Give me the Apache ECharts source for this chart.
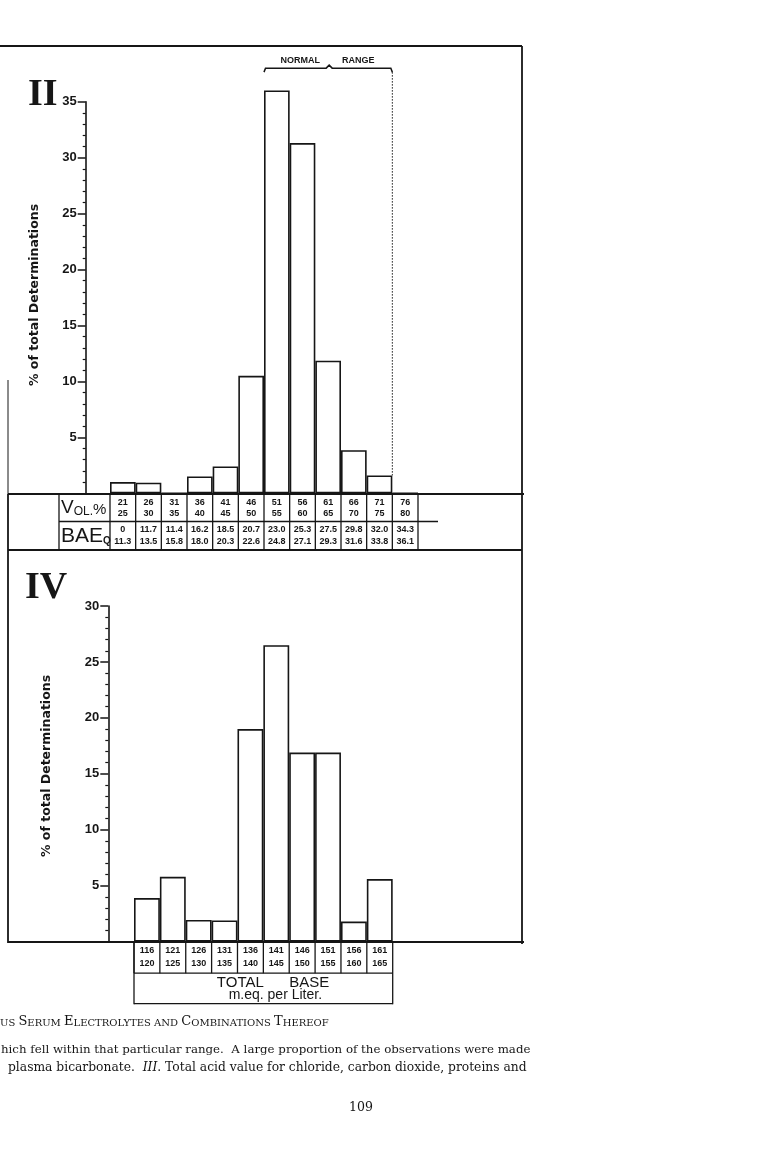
<!DOCTYPE html>
<html>
<head>
<meta charset="utf-8">
<script src="https://cdn.jsdelivr.net/npm/echarts@6/dist/echarts.min.js"></script>
<style>
html,body{margin:0;padding:0;background:#ffffff;}
#chart{width:757px;height:1163px;}
</style>
</head>
<body>
<div id="chart"></div>
<script>
// ---------- Panel II : plasma CO2 (Vol. %) ----------
const volLow  = ['21','26','31','36','41','46','51','56','61','66','71','76'];
const volHigh = ['25','30','35','40','45','50','55','60','65','70','75','80'];
const baeLow  = ['0','11.7','11.4','16.2','18.5','20.7','23.0','25.3','27.5','29.8','32.0','34.3'];
const baeHigh = ['11.3','13.5','15.8','18.0','20.3','22.6','24.8','27.1','29.3','31.6','33.8','36.1'];
const volPercent = [1.0, 0.95, 0, 1.5, 2.4, 10.5, 36.0, 31.3, 11.85, 3.85, 1.6, 0];
const yTicksII = [5, 10, 15, 20, 25, 30, 35];
const normalRange = ['51', '75'];
const normalLabel = ['NORMAL', 'RANGE'];
const normalLevel = 38;

// ---------- Panel IV : total base ----------
const baseLow  = ['116','121','126','131','136','141','146','151','156','161'];
const baseHigh = ['120','125','130','135','140','145','150','155','160','165'];
const basePercent = [3.9, 5.8, 1.95, 1.9, 19.0, 26.5, 16.9, 16.9, 1.8, 5.6];
const yTicksIV = [5, 10, 15, 20, 25, 30];

const axisTitle = '% of total Determinations';
const panelNames = ['II', 'IV'];
const baseTitle = ['TOTAL', 'BASE', 'm.eq. per Liter.'];

const INK = '#161616';
const SANS = '"Liberation Sans", Arial, sans-serif';
const SERIF = '"Liberation Serif", "Times New Roman", serif';
const BOOK = '"DejaVu Serif", serif';

const volCats = volLow.map((v, i) => v + '-' + volHigh[i]);
const baseCats = baseLow.map((v, i) => v + '-' + baseHigh[i]);

function L(x1, y1, x2, y2, w, dash) {
  const s = { stroke: INK, lineWidth: w || 1.3 };
  if (dash) s.lineDash = dash;
  return { type: 'line', shape: { x1, y1, x2, y2 }, style: s };
}
function T(x, y, text, font, align, extra) {
  const a = align || 'center';
  return { type: 'text', x: x, y: y,
    style: Object.assign({ text: text, font: font, fill: INK, align: a, verticalAlign: 'middle',
      textAlign: a, textVerticalAlign: 'middle' }, extra || {}) };
}

function renderVolTable(params, api) {
  const i = api.value(0);
  const c = api.coord([i, 0]);
  const w = api.size([1, 0])[0];
  const x0 = c[0] - w / 2, y0 = c[1] + 0.7;
  const n = volLow.length;
  const f = 'bold 9px ' + SANS;
  const kids = [
    L(x0, y0, x0, y0 + 56, 1.3),
    T(c[0], y0 + 8.5, volLow[i], f),
    T(c[0], y0 + 20, volHigh[i], f),
    T(c[0], y0 + 35.5, baeLow[i], f),
    T(c[0], y0 + 48, baeHigh[i], f)
  ];
  if (i === n - 1) kids.push(L(x0 + w, y0, x0 + w, y0 + 56, 1.3));
  if (i === 0) {
    const lx = x0 - 51;
    kids.push(L(lx, y0, lx, y0 + 56, 1.3));
    kids.push(L(lx, y0 + 27.5, x0 + w * n + 20, y0 + 27.5, 1.3));
    kids.push({ type: 'text', x: lx + 2, y: y0 + 14,
      style: { text: '{a|V}{b|OL.}{c|%}', fill: INK, align: 'left', verticalAlign: 'middle',
        textAlign: 'left', textVerticalAlign: 'middle',
        rich: { a: { fontSize: 19, fontFamily: SANS, verticalAlign: 'bottom', lineHeight: 19 },
                b: { fontSize: 12, fontFamily: SANS, verticalAlign: 'bottom', lineHeight: 19 },
                c: { fontSize: 15, fontFamily: SANS, verticalAlign: 'bottom', lineHeight: 19 } } } });
    kids.push({ type: 'text', x: lx + 2, y: y0 + 42,
      style: { text: '{a|BAE}{b|Q}', fill: INK, align: 'left', verticalAlign: 'middle',
        textAlign: 'left', textVerticalAlign: 'middle',
        rich: { a: { fontSize: 21, fontFamily: SANS, verticalAlign: 'bottom', lineHeight: 21 },
                b: { fontSize: 10, fontFamily: SANS, fontWeight: 'bold', verticalAlign: 'bottom', lineHeight: 18 } } } });
  }
  return { type: 'group', children: kids };
}

function renderBaseTable(params, api) {
  const i = api.value(0);
  const c = api.coord([i, 0]);
  const w = api.size([1, 0])[0];
  const x0 = c[0] - w / 2, y0 = c[1] + 0.5;
  const n = baseLow.length;
  const f = 'bold 9px ' + SANS;
  const kids = [
    L(x0, y0, x0, y0 + 31, 1.3),
    T(c[0], y0 + 8.5, baseLow[i], f),
    T(c[0], y0 + 21.5, baseHigh[i], f)
  ];
  if (i === n - 1) kids.push(L(x0 + w, y0, x0 + w, y0 + 62, 1.3));
  if (i === 0) {
    const xr = x0 + w * n;
    const mid = (x0 + xr) / 2;
    kids.push(L(x0, y0, x0, y0 + 62, 1.3));
    kids.push(L(x0, y0 + 31, xr, y0 + 31, 1.3));
    kids.push(L(x0, y0 + 61.5, xr, y0 + 61.5, 1.3));
    kids.push(T(mid - 23, y0 + 40.5, baseTitle[0], '15px ' + SANS));
    kids.push(T(mid + 46, y0 + 40.5, baseTitle[1], '15px ' + SANS));
    kids.push(T(mid + 12, y0 + 53, baseTitle[2], '14px ' + SANS));
  }
  return { type: 'group', children: kids };
}

function renderNormal(params, api) {
  const a = api.value(0), lvl = api.value(1);
  const b = volHigh.indexOf(normalRange[1]);
  const w = api.size([1, 0])[0];
  const pa = api.coord([a, lvl]), pb = api.coord([b, lvl]);
  const xl = pa[0] - w / 2, xr = pb[0] + w / 2, yb = pa[1];
  const yEnd = api.coord([b, volPercent[b]])[1];
  const xm = (xl + xr) / 2 + 1;
  return { type: 'group', children: [
    { type: 'polyline', shape: { points: [[xl, yb + 4], [xl + 1.5, yb], [xm - 3, yb], [xm, yb - 3], [xm + 3, yb], [xr - 1.5, yb], [xr, yb + 4]] },
      style: { stroke: INK, lineWidth: 1.5, fill: null } },
    L(xr, yb + 4, xr, yEnd, 1, [1.5, 1.5]),
    T(xm - 29, yb - 8, normalLabel[0], 'bold 9px ' + SANS),
    T(xm + 29, yb - 8, normalLabel[1], 'bold 9px ' + SANS)
  ] };
}

function yAxisCfg(gridIndex, ticks, offset) {
  return {
    gridIndex: gridIndex, type: 'value', min: 0, max: ticks[ticks.length - 1],
    interval: ticks[1] - ticks[0], position: 'left', offset: offset,
    axisLine: { show: true, lineStyle: { color: INK, width: 1.6 } },
    axisTick: { show: true, length: 8, lineStyle: { color: INK, width: 1.5 } },
    minorTick: { show: true, splitNumber: 5, length: 3, lineStyle: { color: INK, width: 1.2 } },
    splitLine: { show: false },
    axisLabel: { margin: 9, color: INK, fontSize: 13, fontWeight: 'bold', fontFamily: SANS,
      formatter: v => (ticks.indexOf(v) >= 0 ? String(v) : '') }
  };
}

const barStyle = { color: '#ffffff', borderColor: INK, borderWidth: 1.6 };

const option = {
  animation: false,
  backgroundColor: '#ffffff',
  grid: [
    { left: 110, top: 101.7, width: 308, height: 391.6, outerBoundsMode: 'none', containLabel: false },
    { left: 134, top: 606, width: 258.7, height: 335.7, outerBoundsMode: 'none', containLabel: false }
  ],
  xAxis: [
    { gridIndex: 0, type: 'category', data: volCats, show: false },
    { gridIndex: 1, type: 'category', data: baseCats, show: false }
  ],
  yAxis: [ yAxisCfg(0, yTicksII, 24.3), yAxisCfg(1, yTicksIV, 25.7) ],
  series: [
    { type: 'bar', xAxisIndex: 0, yAxisIndex: 0, data: volPercent, barCategoryGap: '0%',
      itemStyle: barStyle, clip: false, silent: true, z: 3 },
    { type: 'custom', xAxisIndex: 0, yAxisIndex: 0, data: volLow.map((v, i) => [i, 0]),
      renderItem: renderVolTable, silent: true, clip: false, z: 4 },
    { type: 'custom', xAxisIndex: 0, yAxisIndex: 0, data: [[volLow.indexOf(normalRange[0]), normalLevel]],
      renderItem: renderNormal, silent: true, clip: false, z: 4 },
    { type: 'bar', xAxisIndex: 1, yAxisIndex: 1, data: basePercent, barCategoryGap: '0%',
      itemStyle: barStyle, clip: false, silent: true, z: 3 },
    { type: 'custom', xAxisIndex: 1, yAxisIndex: 1, data: baseLow.map((v, i) => [i, 0]),
      renderItem: renderBaseTable, silent: true, clip: false, z: 4 }
  ],
  graphic: [
    L(0, 46, 522, 46, 2),
    L(522, 46, 522, 944, 1.8),
    L(8, 494, 524, 494, 2),
    L(8, 380, 8, 494, 1),
    L(8, 494, 8, 943, 1.8),
    L(8, 550, 522, 550, 1.8),
    L(8, 942, 524, 942, 2),
    T(28, 95, panelNames[0], 'bold 38px ' + SERIF, 'left'),
    T(25, 588, panelNames[1], 'bold 38px ' + SERIF, 'left'),
    Object.assign(T(35, 295, axisTitle, 'bold 12.5px "DejaVu Sans"'), { rotation: Math.PI / 2 }),
    Object.assign(T(47, 766, axisTitle, 'bold 12.5px "DejaVu Sans"'), { rotation: Math.PI / 2 }),
    { type: 'text', x: 0, y: 1022,
      style: { text: '{s|US }{b|S}{s|ERUM }{b|E}{s|LECTROLYTES AND }{b|C}{s|OMBINATIONS }{b|T}{s|HEREOF}',
        fill: INK, align: 'left', verticalAlign: 'middle', textAlign: 'left', textVerticalAlign: 'middle',
        rich: { s: { fontSize: 10, fontFamily: BOOK, verticalAlign: 'bottom', lineHeight: 13 },
                b: { fontSize: 13, fontFamily: BOOK, verticalAlign: 'bottom', lineHeight: 13 } } } },
    T(1, 1050, 'hich fell within that particular range.  A large proportion of the observations were made', '11.8px ' + BOOK, 'left'),
    { type: 'text', x: 8, y: 1068,
      style: { text: '{n|plasma bicarbonate.  }{i|III}{n|. Total acid value for chloride, carbon dioxide, proteins and}',
        fill: INK, align: 'left', verticalAlign: 'middle', textAlign: 'left', textVerticalAlign: 'middle',
        rich: { n: { fontSize: 12.3, fontFamily: BOOK }, i: { fontSize: 12.3, fontFamily: BOOK, fontStyle: 'italic' } } } },
    T(361, 1108, '109', '12.5px ' + BOOK)
  ]
};

const chart = echarts.init(document.getElementById('chart'), null, { renderer: 'canvas' });
chart.setOption(option);
</script>
</body>
</html>
